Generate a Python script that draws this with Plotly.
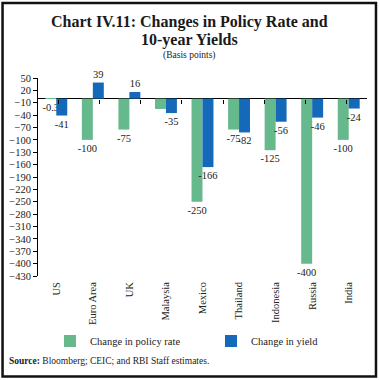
import plotly.graph_objects as go

countries = ["US", "Euro Area", "UK", "Malaysia", "Mexico", "Thailand", "Indonesia", "Russia", "India"]
policy_rate = [-0.3, -100, -75, -25, -250, -75, -125, -400, -100]
yield_change = [-41, 39, 16, -35, -166, -82, -56, -46, -24]
policy_labels = ["-0.3", "-100", "-75", "", "-250", "-75", "-125", "-400", "-100"]
yield_labels = ["-41", "39", "16", "-35", "-166", "-82", "-56", "-46", "-24"]

GREEN = "#66b98c"
BLUE = "#1469b8"
FONT = "Liberation Serif"

W, H = 380, 380
L, R, T, B = 38, 12.5, 78, 104
pw, ph = W - L - R, H - T - B
def px(x): return (x - L) / pw
def py(y): return (H - B - y) / ph

fig = go.Figure()
fig.add_trace(go.Bar(x=countries, y=policy_rate, name="Change in policy rate",
                     marker=dict(color=GREEN, line=dict(width=0)),
                     text=policy_labels, textposition="outside", constraintext="none",
                     textfont=dict(family=FONT, size=10.5, color="#222"),
                     cliponaxis=False))
fig.add_trace(go.Bar(x=countries, y=yield_change, name="Change in yield",
                     marker=dict(color=BLUE, line=dict(width=0)),
                     text=yield_labels, textposition="outside", constraintext="none",
                     textfont=dict(family=FONT, size=10.5, color="#222"),
                     cliponaxis=False))
fig.add_trace(go.Scatter(x=countries, y=[None] * len(countries), xaxis="x2",
                         showlegend=False, hoverinfo="skip", mode="lines"))

fig.update_layout(
    width=W, height=H,
    margin=dict(l=L, r=R, t=T, b=B, pad=0, autoexpand=False),
    paper_bgcolor="white", plot_bgcolor="white",
    barmode="group", bargap=0.4, bargroupgap=0,
    font=dict(family=FONT, size=10, color="#222"),
    xaxis=dict(type="category", categoryarray=countries, showline=False, ticks="",
               tickangle=-90, showgrid=False, zeroline=False, automargin=False,
               tickfont=dict(family=FONT, size=10.5, color="#222"), ticklabelstandoff=3),
    xaxis2=dict(type="category", categoryarray=countries, overlaying="x", anchor="free",
                position=(0 + 430) / 480, showline=False, ticks="outside", ticklen=4,
                tickcolor="black", tickson="boundaries", showticklabels=False,
                showgrid=False, zeroline=False, side="bottom"),
    yaxis=dict(range=[-430, 50], tickmode="linear", tick0=50, dtick=30,
               showline=True, linecolor="black", linewidth=1, automargin=False,
               ticks="outside", ticklen=4, tickcolor="black",
               showgrid=False, zeroline=True, zerolinecolor="black", zerolinewidth=1,
               tickfont=dict(family=FONT, size=10.5, color="#222")),
    legend=dict(orientation="h", x=px(50), y=py(341), xanchor="left", yanchor="middle",
                entrywidth=116, entrywidthmode="pixels",
                font=dict(family=FONT, size=10.5, color="#222"), bgcolor="rgba(0,0,0,0)"),
    showlegend=True,
)

fig.add_annotation(text="<b>Chart IV.11: Changes in Policy Rate and</b>",
                   xref="paper", yref="paper", x=px(190), y=py(22), xanchor="center",
                   yanchor="middle", showarrow=False,
                   font=dict(family=FONT, size=16, color="#1a1a1a"))
fig.add_annotation(text="<b>10-year Yields</b>",
                   xref="paper", yref="paper", x=px(190), y=py(40), xanchor="center",
                   yanchor="middle", showarrow=False,
                   font=dict(family=FONT, size=16, color="#1a1a1a"))
fig.add_annotation(text="(Basis points)", xref="paper", yref="paper", x=px(190), y=py(55),
                   xanchor="center", yanchor="middle", showarrow=False,
                   font=dict(family=FONT, size=9.5, color="#222"))
fig.add_annotation(text="<b>Source:</b> Bloomberg; CEIC; and RBI Staff estimates.",
                   xref="paper", yref="paper", x=px(7), y=py(361), xanchor="left",
                   yanchor="middle", showarrow=False,
                   font=dict(family=FONT, size=9.5, color="#222"))
fig.add_shape(type="rect", xref="paper", yref="paper", x0=px(2.5), x1=px(376.5),
              y0=py(376.5), y1=py(3), line=dict(color="#111", width=2.5),
              fillcolor="rgba(0,0,0,0)", layer="above")

fig.write_html("out.html", post_script="document.body.style.margin='0';",
               config={"displayModeBar": False})
